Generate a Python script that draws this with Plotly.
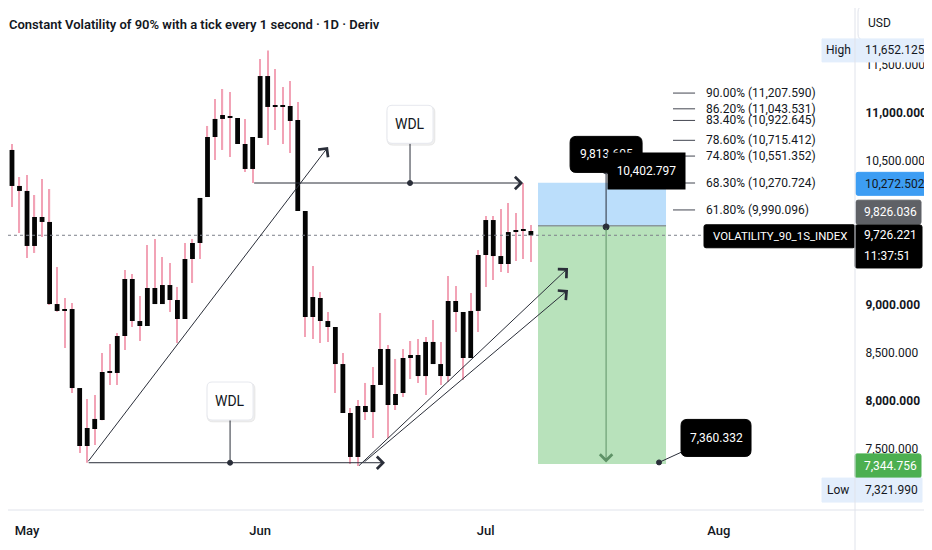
import pandas as pd
import plotly.graph_objects as go

# daily candles of the Volatility 90 (1s) index
dates = pd.date_range("2025-04-28", periods=71, freq="D")
opens = [10427, 10615, 10240, 10188, 9615, 9917, 9865, 9010, 8938, 8958,
         8135, 7531, 7708, 7802, 8302, 8292, 8677, 9271, 8833, 8781,
         9177, 9010, 9208, 9052, 8854, 9479, 9646, 10125, 10750, 10938,
         10969, 10948, 10677, 10417, 10740, 11385, 11063, 11073, 11073, 10927,
         9979, 8875, 9073, 8833, 8771, 8385, 7875, 7417, 7948, 7885,
         8167, 8542, 7958, 8083, 8448, 8479, 8260, 8615, 8385, 8260,
         9042, 8927, 8448, 8938, 9521, 9885, 9510, 9427, 9760, 9781,
         9771]
highs = [10917, 10677, 10333, 10354, 10146, 10313, 10208, 9396, 9073, 9021,
         8135, 8021, 8063, 8500, 8594, 8708, 9365, 9323, 9094, 9625,
         9688, 9500, 9438, 9188, 9646, 9688, 10115, 10865, 11146, 11250,
         11219, 10948, 10938, 10750, 11562, 11652.125, 11458, 11271, 11333, 11115,
         9979, 9406, 9135, 8927, 8771, 8500, 7927, 8010, 8188, 8354,
         8917, 8583, 8438, 8542, 8625, 8646, 8667, 8844, 8615, 9302,
         9198, 8927, 9125, 9573, 9927, 9927, 10000, 10063, 9958, 10271,
         9833]
lows = [10410, 10021, 9750, 9490, 9542, 9708, 9000, 8930, 8552, 8083,
        7458, 7357, 7542, 7800, 8167, 8167, 8531, 8771, 8625, 8781,
        9010, 9010, 8927, 8604, 8854, 9229, 9479, 10125, 10510, 10615,
        10542, 10677, 10385, 10270.724, 10740, 10667, 10823, 10677, 10583, 9979,
        8667, 8646, 8604, 8615, 8083, 7875, 7344, 7321.99, 7802, 7615,
        8167, 7615, 7906, 8042, 8229, 8188, 8063, 8385, 8167, 8198,
        8719, 8219, 8448, 8719, 9188, 9260, 9344, 9333, 9458, 9479,
        9448]
closes = [10615, 10240, 10188, 9615, 9917, 9865, 9010, 8938, 8958, 8135,
          7531, 7719, 7813, 8302, 8292, 8677, 9271, 8833, 8781, 9177,
          9010, 9208, 9052, 8854, 9479, 9646, 10115, 10750, 10938, 10979,
          10948, 10677, 10417, 10750, 11385, 11063, 11073, 11063, 10917, 9979,
          8875, 9083, 8833, 8771, 8385, 7875, 7417, 7948, 7885, 8167,
          8542, 7958, 8073, 8448, 8479, 8260, 8615, 8385, 8260, 9042,
          8927, 8448, 8938, 9521, 9885, 9510, 9427, 9760, 9781, 9771,
          9726.221]

title = "Constant Volatility of 90% with a tick every 1 second · 1D · Deriv"
symbol = "VOLATILITY_90_1S_INDEX"
last_price = 9726.221
last_time = "11:37:51"
high_price = 11652.125
low_price = 7321.990

# position tool
stop_price = 10272.502
entry_price = 9826.036
target_price = 7344.756

# fib levels at the right
fib_levels = ["90.00%", "86.20%", "83.40%", "78.60%", "74.80%", "68.30%", "61.80%"]
fib_prices = [11207.590, 11043.531, 10922.645, 10715.412, 10551.352, 10270.724, 9990.096]

# price range arrow + notes
range_top = 10402.797
range_mid = 9813.605
range_bottom = 7360.332

month_ticks = ["2025-05-01", "2025-06-01", "2025-07-01", "2025-08-01"]
month_labels = ["May", "Jun", "Jul", "Aug"]
# 7,000 / 9,500 / 10,000 sit under the price tags on the scale
price_ticks = [7500, 8000, 8500, 9000, 10500, 11000, 11500]

FONT = "Roboto, sans-serif"
TXT = "#131722"
LINE = "#2a2e39"
WICK = "#f2a3b6"
DAY_MS = 86400000

BASE = pd.Timestamp("2025-05-01")


def day(n):
    return (BASE + pd.Timedelta(days=n)).strftime("%Y-%m-%d %H:%M:%S")


def ds(i):
    return dates[i].strftime("%Y-%m-%d %H:%M:%S")


def rr(x0, y0, x1, y1, r):
    return (f"M{x0 + r},{y0} L{x1 - r},{y0} Q{x1},{y0} {x1},{y0 + r} L{x1},{y1 - r} "
            f"Q{x1},{y1} {x1 - r},{y1} L{x0 + r},{y1} Q{x0},{y1} {x0},{y1 - r} "
            f"L{x0},{y0 + r} Q{x0},{y0} {x0 + r},{y0} Z")


fig = go.Figure()

# wicks then bodies (all bodies black on this chart)
fig.add_trace(go.Bar(x=dates, y=[h - l for h, l in zip(highs, lows)], base=lows,
                     width=0.16 * DAY_MS, marker=dict(color=WICK, line=dict(width=0)),
                     hoverinfo="skip"))
body_base = [min(o, c) for o, c in zip(opens, closes)]
body_h = [max(abs(c - o), 14) for o, c in zip(opens, closes)]
fig.add_trace(go.Bar(x=dates, y=body_h, base=body_base, width=0.64 * DAY_MS,
                     marker=dict(color="#050505", line=dict(width=0)), hoverinfo="skip"))


def box(xa, ya, x0, y0, x1, y1, fill, line=None, r=0, xref="x", yref="y"):
    fig.add_shape(type="path", xref=xref, yref=yref, xsizemode="pixel", ysizemode="pixel",
                  xanchor=xa, yanchor=ya, path=rr(x0, y0, x1, y1, r), fillcolor=fill,
                  line=dict(color=line or fill, width=1), layer="above")


def seg(xa, ya, x0, y0, x1, y1, color=LINE, xref="x", yref="y"):
    fig.add_shape(type="line", xref=xref, yref=yref, xsizemode="pixel", ysizemode="pixel",
                  xanchor=xa, yanchor=ya, x0=x0, y0=y0, x1=x1, y1=y1,
                  line=dict(color=color, width=1), layer="above")


def dot(xa, ya, r=2.5, fill=LINE, line=LINE):
    fig.add_shape(type="circle", xref="x", yref="y", xsizemode="pixel", ysizemode="pixel",
                  xanchor=xa, yanchor=ya, x0=-r, y0=-r, x1=r, y1=r, fillcolor=fill,
                  line=dict(color=line, width=1), layer="above")


def label(xa, ya, dx, dy, s, color=TXT, size=12, anchor="center", xref="x", yref="y",
          weight="normal", **kw):
    fig.add_annotation(x=xa, y=ya, xref=xref, yref=yref, xshift=dx, yshift=dy, text=s,
                       showarrow=False, xanchor=anchor, yanchor="middle",
                       font=dict(family=FONT, size=size, color=color, weight=weight), **kw)


def arrow(x0, y0, x1, y1, color=LINE, head=4):
    fig.add_annotation(x=x1, y=y1, ax=x0, ay=y0, xref="x", yref="y", axref="x", ayref="y",
                       text="", showarrow=True, arrowhead=head, arrowsize=2.4, arrowwidth=1,
                       arrowcolor=color, standoff=0)


# position tool zones
fig.add_shape(type="rect", x0=day(67.95), x1=day(84.97), y0=entry_price, y1=stop_price,
              fillcolor="#bbdefb", line=dict(width=0), layer="below")
fig.add_shape(type="rect", x0=day(67.95), x1=day(84.97), y0=target_price, y1=entry_price,
              fillcolor="#b8e2bb", line=dict(width=0), layer="below")
fig.add_shape(type="line", x0=day(67.95), x1=day(84.97), y0=entry_price, y1=entry_price,
              line=dict(color="#8a979c", width=1.5), layer="below")

# current price dotted line
fig.add_shape(type="line", xref="paper", x0=0, x1=1, y0=last_price, y1=last_price,
              line=dict(color="#7c808b", width=1, dash="dot"), layer="above")

# trend lines
arrow(ds(11), lows[11], day(40.03), 10646)
arrow(ds(11), lows[11], day(47.6), lows[11])
arrow(ds(33), lows[33], day(65.96), lows[33])
arrow(day(43.95), 7312, day(71.94), 9385)
arrow(day(44.68), 7354, day(71.94), 9156)

# WDL notes
for xa, ya, up in [(day(27), lows[11], 42.7), (day(50.93), lows[33], 39.7)]:
    seg(xa, ya, 0, 0, 0, up)
    box(xa, ya, -23, up - 2, 25, up + 37, "rgba(0,0,0,0.06)", r=6)
    box(xa, ya, -23, up, 23, up + 38, "#ffffff", line="#e6e8ee", r=5)
    dot(xa, ya)
    label(xa, ya, 0, up + 19, "WDL", size=14)

# fib labels
for lvl, p in zip(fib_levels, fib_prices):
    fig.add_shape(type="line", x0=day(85.9), x1=day(88.83), y0=p, y1=p,
                  line=dict(color="#434651", width=1), layer="above")
    label(day(90.03), p, 0, 0, f"{lvl} ({p:,.3f})", anchor="left")

# price range arrow
fig.add_shape(type="line", x0=day(77), x1=day(77), y0=range_mid, y1=range_top,
              line=dict(color=LINE, width=1), layer="above")
arrow(day(77), range_mid, day(77), range_bottom, color="#5e9266")
dot(day(77), range_mid, r=3)
dot(day(77), range_top, r=3.5, fill="#ffffff")
box(day(77), range_mid, -36, 54.5, 36, 90.5, "#000000", r=6)
label(day(77), range_mid, 0, 72.5, f"{range_mid:,.3f}", color="#ffffff")
label(day(77), range_top, 40, -0.5, f"{range_top:,.3f}", color="#ffffff",
      bgcolor="#000000", width=77, height=36, borderpad=0)

# bottom note
seg(day(84.04), range_bottom, 0, 0, 24, 11)
dot(day(84.04), range_bottom)
box(day(84.04), range_bottom, 22, 6, 92, 43, "#000000", r=6)
label(day(84.04), range_bottom, 57, 24.5, f"{range_bottom:,.3f}", color="#ffffff")

# symbol tag on the last price
box(1, last_price, -151, -12.5, 0, 10.5, "#000000", xref="paper", r=2)
label(1, last_price, -75.5, -1, symbol, color="#ffffff", size=11.4, xref="paper")

# right scale labels
box(1, 1, 3, -32, 73, 2, "#ffffff", line="#e0e3eb", r=6, xref="paper", yref="paper")
label(1, 1, 11, -15, "USD", anchor="left", xref="paper", yref="paper")

box(1, high_price, -33, -11.5, 73, 11.5, "#e3eefc", xref="paper")
label(1, high_price, -17, 0, "High", xref="paper")
label(1, high_price, 8, 0, f"{high_price:,.3f}", anchor="left", xref="paper")

box(1, stop_price, 1, -12.5, 73, 10.5, "#3d9df3", xref="paper", r=2)
label(1, stop_price, 8, -1, f"{stop_price:,.3f}", anchor="left", xref="paper")

box(1, entry_price, 1, 1.5, 66, 25.5, "#5f6166", xref="paper", r=2)
label(1, entry_price, 7, 13.5, f"{entry_price:,.3f}", color="#ffffff", anchor="left", xref="paper")

box(1, last_price, 0, -32.7, 67, 10.3, "#000000", xref="paper", r=2)
label(1, last_price, 7, 0, f"{last_price:,.3f}", color="#ffffff", anchor="left", xref="paper")
label(1, last_price, 7, -21, last_time, color="#ffffff", anchor="left", xref="paper")

box(1, target_price, 0, -14, 66, 10, "#4caf50", xref="paper", r=2)
label(1, target_price, 7, -2, f"{target_price:,.3f}", color="#ffffff", anchor="left", xref="paper")

box(1, low_price, -33, -36, 67, -12, "#e3eefc", xref="paper")
label(1, low_price, -17, -24, "Low", xref="paper")
label(1, low_price, 8, -24, f"{low_price:,.3f}", anchor="left", xref="paper")

# title
label(0, 1, -1, -16, title, anchor="left", xref="paper", yref="paper", size=13, weight=600)

# frame lines
fig.add_shape(type="line", xref="paper", yref="paper", x0=0, x1=1.1, y0=0, y1=0,
              line=dict(color="#e0e3eb", width=1))
fig.add_shape(type="line", xref="paper", yref="paper", x0=1, x1=1, y0=-0.09, y1=1,
              line=dict(color="#e0e3eb", width=1))

tick_text = [f"<b>{t:,.3f}</b>" if t % 1000 == 0 else f"{t:,.3f}" for t in price_ticks]

# the page puts the figure 8px in from the corner, so the figure is 8px smaller
fig.update_layout(
    width=924, height=542,
    margin=dict(l=0, r=77, t=0, b=40),
    paper_bgcolor="#ffffff", plot_bgcolor="#ffffff",
    barmode="overlay", showlegend=False, hovermode=False,
    font=dict(family=FONT, color=TXT),
    xaxis=dict(type="date", range=[day(-2.53), day(110.1)], tickvals=month_ticks,
               ticktext=month_labels, showgrid=False, zeroline=False, ticks="outside",
               ticklen=8, tickcolor="rgba(0,0,0,0)", automargin=False,
               tickfont=dict(size=13, color=TXT, weight=500)),
    yaxis=dict(side="right", range=[6864.6, 12093.75], tickvals=price_ticks, ticktext=tick_text,
               showgrid=False, zeroline=False, ticks="outside", ticklen=7, automargin=False,
               tickcolor="rgba(0,0,0,0)", tickfont=dict(size=12, color=TXT)),
)

fig.write_html("out.html")
